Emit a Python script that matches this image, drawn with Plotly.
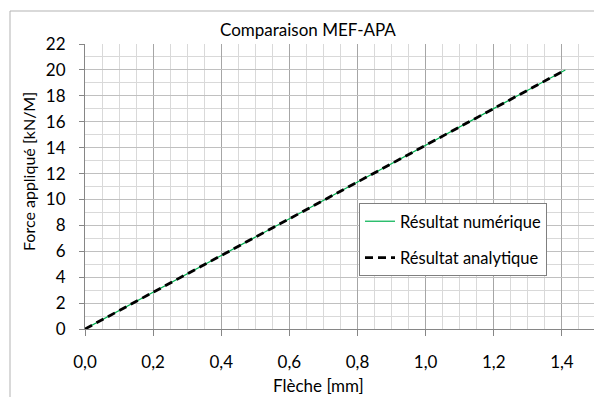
import plotly.graph_objects as go

# Data
force_kn = [0, 2, 4, 6, 8, 10, 12, 14, 16, 18, 20]
fleche_numerique = [0, 0.141, 0.282, 0.423, 0.564, 0.705, 0.846, 0.987, 1.128, 1.269, 1.41]
fleche_analytique = [0, 0.141, 0.282, 0.423, 0.564, 0.705, 0.846, 0.987, 1.128, 1.269, 1.41]

title_text = "Comparaison MEF-APA"
x_title = "Flèche [mm]"
y_title = "Force appliqué [kN/M]"
name_num = "Résultat numérique"
name_ana = "Résultat analytique"

# The page body has an 8px default margin: work in page pixels, shift by OFF.
OFF = 8
W, H = 602 - OFF, 397 - OFF
L, R, T, B = 85 - OFF, 596 - OFF, 44 - OFF, 329 - OFF
pw, ph = R - L, B - T

def px(x):
    return (x - OFF - L) / pw

def py(y):
    return (B - (y - OFF)) / ph

FONT = "Lato"

fig = go.Figure()
fig.add_trace(go.Scatter(
    x=fleche_numerique, y=force_kn, mode="lines", name=name_num,
    line=dict(color="#00B050", width=1.2), legendgroup="a"))
fig.add_trace(go.Scatter(
    x=fleche_analytique, y=force_kn, mode="lines", name=name_ana,
    line=dict(color="#000000", width=2.8, dash="8px,5px"), legendgroup="b"))

fig.update_layout(
    width=W, height=H,
    margin=dict(l=L, r=W - R, t=T, b=H - B),
    paper_bgcolor="white", plot_bgcolor="white",
    separators=", ",
    font=dict(family=FONT, size=17, color="#000000"),
    showlegend=True,
    legend=dict(
        x=px(359), y=py(203), xanchor="left", yanchor="top",
        bgcolor="white", bordercolor="#7f7f7f", borderwidth=1,
        font=dict(family=FONT, size=16.5, color="#000000"),
        tracegroupgap=12, traceorder="grouped",
    ),
    annotations=[
        dict(text=title_text, x=px(308), y=py(29), xref="paper", yref="paper",
             showarrow=False, font=dict(family=FONT, size=17), xanchor="center", yanchor="middle"),
        dict(text=x_title, x=px(318), y=py(385), xref="paper", yref="paper",
             showarrow=False, font=dict(family=FONT, size=17), xanchor="center", yanchor="middle"),
        dict(text=y_title, x=px(28), y=py(172), xref="paper", yref="paper",
             showarrow=False, textangle=-90, font=dict(family=FONT, size=16),
             xanchor="center", yanchor="middle"),
    ],
    shapes=[
        dict(type="rect", xref="paper", yref="paper",
             x0=px(10), x1=px(640), y0=py(440), y1=py(11),
             line=dict(color="#b3b3b3", width=1), layer="below"),
    ],
)

fig.update_xaxes(
    range=[0, 1.5], tick0=0, dtick=0.2, tickformat=".1f",
    showgrid=True, gridcolor="#a6a6a6", gridwidth=1,
    minor=dict(dtick=0.05, tick0=0, showgrid=True, gridcolor="#d9d9d9", gridwidth=1),
    showline=True, linecolor="#868686", linewidth=1,
    ticks="outside", ticklen=6, tickcolor="#868686",
    ticklabelstandoff=12, zeroline=False,
    tickfont=dict(family=FONT, size=17),
)
fig.update_yaxes(
    range=[0, 22], tick0=0, dtick=2,
    showgrid=True, gridcolor="#c0c0c0", gridwidth=1,
    minor=dict(dtick=1, tick0=0, showgrid=True, gridcolor="#d9d9d9", gridwidth=1),
    showline=True, linecolor="#868686", linewidth=1,
    ticks="outside", ticklen=5, tickcolor="#868686",
    ticklabelstandoff=10, zeroline=False,
    tickfont=dict(family=FONT, size=17),
)

fig.write_html("out.html")
